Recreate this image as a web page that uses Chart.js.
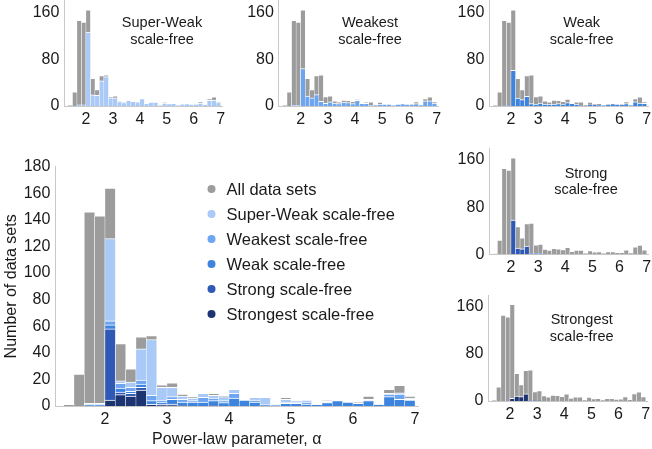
<!DOCTYPE html>
<html>
<head>
<meta charset="utf-8">
<title>Power-law parameter histograms</title>
<script src="https://cdn.jsdelivr.net/npm/chart.js@4.4.0/dist/chart.umd.min.js"></script>
<style>
    html, body { margin: 0; padding: 0; background: #fff; }
    #wrap { position: relative; width: 652px; height: 449px; overflow: hidden; }
    #wrap canvas { position: absolute; left: 0; top: 0; }
</style>
</head>
<body>
<div id="wrap">
    <canvas id="mainChart" width="652" height="449"></canvas>
    <canvas id="pSuperWeak" width="652" height="449"></canvas>
    <canvas id="pWeakest" width="652" height="449"></canvas>
    <canvas id="pWeak" width="652" height="449"></canvas>
    <canvas id="pStrong" width="652" height="449"></canvas>
    <canvas id="pStrongest" width="652" height="449"></canvas>
</div>
<script>
// Bin centres (bins of width 1/6 in alpha)
const binCenters = [
    1.4167, 1.5833, 1.7500, 1.9167, 2.0833, 2.2500, 2.4167, 2.5833, 2.7500, 2.9167,
    3.0833, 3.2500, 3.4167, 3.5833, 3.7500, 3.9167, 4.0833, 4.2500, 4.4167, 4.5833,
    4.7500, 4.9167, 5.0833, 5.2500, 5.4167, 5.5833, 5.7500, 5.9167, 6.0833, 6.2500,
    6.4167, 6.5833, 6.7500, 6.9167
];

// Counts per bin
const allSets    = [1, 24, 146, 143, 164, 47, 28, 52, 53, 16, 17.5, 9, 7, 10, 9.5, 8, 12, 5, 7, 7, 1.5, 6.5, 4, 4.5, 1.5, 4.5, 4.5, 3, 3.5, 7.5, 2.5, 12.5, 15.5, 7.5];
const superWeak  = [0, 0, 2, 2, 126, 19, 18, 43, 50, 14, 14, 7.5, 6, 9.5, 8, 7, 12.5, 4.5, 6.5, 6.5, 1, 5, 4, 4.5, 1, 3.5, 4, 3, 2.5, 5, 2, 9.5, 10, 6];
const weakest    = [0, 0, 1, 1, 64, 17, 14, 19.5, 8, 4.5, 7, 5, 4, 6.5, 6, 4, 9.5, 4.5, 4.5, 1, 0.5, 3, 3, 3, 1, 3, 4, 3, 2, 4, 1.5, 9, 9, 5];
const weak       = [0, 0, 0.5, 0.5, 61, 13.5, 11, 16.5, 4, 3, 5, 3, 3, 3, 4, 2.5, 6, 4.5, 3, 0.5, 0, 2, 2, 1.5, 1, 2.5, 4, 3, 2, 4, 1, 7, 5, 4.5];
const strong     = [0, 0, 0, 0, 58, 10.5, 9.5, 14, 1.5, 1.5, 1.5, 0.5, 0, 0, 0.5, 0, 0, 0, 0, 0, 0, 0, 0, 0, 0, 0, 0, 0, 0, 0, 0, 0, 0, 0];
const strongest  = [0, 0, 0, 0, 4.5, 8.5, 7.5, 12, 1, 0.5, 0.5, 0, 0, 0, 0, 0, 0, 0, 0, 0, 0, 0, 0, 0, 0, 0, 0, 0, 0, 0, 0, 0, 0, 0];

const xTicks = [2, 3, 4, 5, 6, 7];
const mainYTicks = [0, 20, 40, 60, 80, 100, 120, 140, 160, 180];
const panelYTicks = [0, 80, 160];

// Style
const FONT = '"Liberation Sans", Arial, Helvetica, sans-serif';
const TEXT = '#1a1a1a';
const AXIS = '#c8c8c8';
const W = 652, H = 449;

const SERIES = [
    { label: 'All data sets',         data: allSets,   color: '#9c9c9c' },
    { label: 'Super-Weak scale-free', data: superWeak, color: '#a9c9f6' },
    { label: 'Weakest scale-free',    data: weakest,   color: '#6ea5f0' },
    { label: 'Weak scale-free',       data: weak,      color: '#3d84de' },
    { label: 'Strong scale-free',     data: strong,    color: '#2f59b4' },
    { label: 'Strongest scale-free',  data: strongest, color: '#1d3472' }
];

Chart.defaults.font.family = FONT;
Chart.defaults.color = TEXT;

function toPoints(values) {
    return values.map((v, i) => ({ x: binCenters[i], y: v }));
}

function barDataset(s, order) {
    return {
        label: s.label,
        data: toPoints(s.data),
        backgroundColor: s.color,
        borderColor: '#ffffff',
        borderWidth: { top: 1, left: 0.5, right: 0.5, bottom: 0 },
        grouped: false,
        barPercentage: 1,
        categoryPercentage: 1,
        order: order
    };
}

// box: chart area {L, T, R, B}, yW / xH: axis box sizes
function buildOptions(box, opts) {
    return {
        responsive: false,
        animation: false,
        events: [],
        layout: {
            padding: { left: box.L - opts.yW, top: box.T, right: W - box.R, bottom: H - box.B - opts.xH }
        },
        plugins: { legend: { display: false }, tooltip: { enabled: false } },
        scales: {
            x: {
                type: 'linear',
                min: 1.2,
                max: opts.xMax,
                offset: false,
                grid: { display: false, drawTicks: false },
                border: { display: true, color: AXIS, width: 1 },
                ticks: { font: { size: 16 }, color: TEXT, padding: opts.xPad, maxRotation: 0 },
                title: opts.xTitle ? {
                    display: true, text: opts.xTitle, color: TEXT,
                    font: { size: 16 }, padding: { top: 0, bottom: 0 }
                } : { display: false },
                afterBuildTicks: s => { s.ticks = xTicks.map(v => ({ value: v })); },
                afterFit: s => { s.height = opts.xH; s.paddingLeft = 0; s.paddingRight = 0; }
            },
            y: {
                min: 0,
                max: 180,
                grid: { display: false, drawTicks: false },
                border: { display: true, color: AXIS, width: 1 },
                ticks: { font: { size: 16 }, color: TEXT, padding: opts.yPad },
                title: opts.yTitle ? {
                    display: true, text: opts.yTitle, color: TEXT,
                    font: { size: 16 }, padding: { top: 2, bottom: 0 }
                } : { display: false },
                afterBuildTicks: s => { s.ticks = opts.yTicks.map(v => ({ value: v })); },
                afterFit: s => { s.width = opts.yW; s.paddingTop = 0; s.paddingBottom = 0; }
            }
        }
    };
}

// Legend drawn inside the main plot
const mainLegend = {
    id: 'mainLegend',
    afterDraw(chart) {
        const ctx = chart.ctx;
        ctx.save();
        ctx.font = '16.5px ' + FONT;
        ctx.textBaseline = 'middle';
        ctx.textAlign = 'left';
        SERIES.forEach((s, i) => {
            const y = 189 + i * 25;
            ctx.fillStyle = s.color;
            ctx.beginPath();
            ctx.arc(211.5, y, 4, 0, Math.PI * 2);
            ctx.fill();
            ctx.fillStyle = TEXT;
            ctx.fillText(s.label, 226.5, y + 1);
        });
        ctx.restore();
    }
};

function panelTitle(lines, cx, y0) {
    return {
        id: 'panelTitle',
        afterDraw(chart) {
            const ctx = chart.ctx;
            ctx.save();
            ctx.font = '14.5px ' + FONT;
            ctx.fillStyle = TEXT;
            ctx.textAlign = 'center';
            ctx.textBaseline = 'middle';
            lines.forEach((t, i) => ctx.fillText(t, cx, y0 + i * 16.7));
            ctx.restore();
        }
    };
}

// Main chart
new Chart(document.getElementById('mainChart'), {
    type: 'bar',
    data: { datasets: SERIES.map((s, i) => barDataset(s, SERIES.length - i)) },
    options: buildOptions(
        { L: 55.4, T: 166.7, R: 418.1, B: 406 },
        { yW: 55, xH: 43, xMax: 7.05, yTicks: mainYTicks, xPad: 4, yPad: 5,
          xTitle: 'Power-law parameter, \u03b1', yTitle: 'Number of data sets' }
    ),
    plugins: [mainLegend]
});

// Small panels
const PANELS = [
    { id: 'pSuperWeak', series: 1, box: { L: 64.4, T: 0.5, R: 222.3, B: 106 },   title: ['Super-Weak', 'scale-free'], tx: 162,   ty: 23 },
    { id: 'pWeakest',   series: 2, box: { L: 278.9, T: 0.5, R: 438.3, B: 106 },  title: ['Weakest', 'scale-free'],    tx: 370,   ty: 23 },
    { id: 'pWeak',      series: 3, box: { L: 489.3, T: 0.5, R: 648.3, B: 106 },  title: ['Weak', 'scale-free'],       tx: 581.7, ty: 23 },
    { id: 'pStrong',    series: 4, box: { L: 489.3, T: 148.3, R: 648.3, B: 254.3 }, title: ['Strong', 'scale-free'],  tx: 586,   ty: 173.5 },
    { id: 'pStrongest', series: 5, box: { L: 488.3, T: 295, R: 647.3, B: 401 },  title: ['Strongest', 'scale-free'],  tx: 581.7, ty: 320 }
];

PANELS.forEach(p => {
    new Chart(document.getElementById(p.id), {
        type: 'bar',
        data: { datasets: [barDataset(SERIES[0], 2), barDataset(SERIES[p.series], 1)] },
        options: buildOptions(p.box, { yW: 40, xH: 30, xMax: 7.06, yTicks: panelYTicks, xPad: 4, yPad: 5 }),
        plugins: [panelTitle(p.title, p.tx, p.ty)]
    });
});
</script>
</body>
</html>
